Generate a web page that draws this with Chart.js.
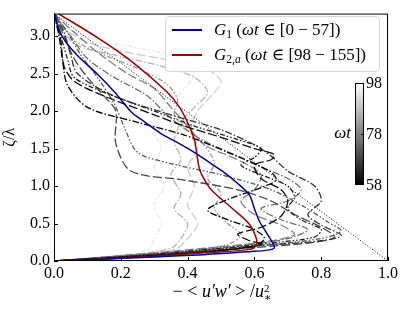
<!DOCTYPE html>
<html>
<head>
<meta charset="utf-8">
<script src="https://cdn.jsdelivr.net/npm/chart.js@4.4.1/dist/chart.umd.min.js"></script>
<style>
  body { margin: 0; background: #fff; }
  #wrap { position: relative; width: 407px; height: 310px; font-family: 'Liberation Serif', 'DejaVu Serif', serif; }
  #legend {
    position: absolute; left: 165px; top: 16px; width: 215px; height: 56px;
    border: 1px solid #d6d6d6; border-radius: 4px; background: rgba(255,255,255,0.85);
    box-sizing: border-box; font-size: 17px; color: #000;
  }
  .row { position: absolute; left: 0; height: 20px; line-height: 20px; white-space: nowrap; }
  .swatch { position: absolute; left: 6px; top: 9px; width: 30px; height: 2px; }
  .txt { position: absolute; left: 48px; top: 0; }
  sub { font-size: 11.5px; vertical-align: -3px; line-height: 0; }
  #xtitle { position: absolute; left: 0; width: 444px; top: 281px; text-align: center; font-size: 18px; white-space: nowrap; }
  .ss { display: inline-block; vertical-align: -4px; line-height: 9px; font-size: 11px; text-align: left; }
</style>
</head>
<body>
<div id="wrap">
  <canvas id="c" width="407" height="310"></canvas>
  <div id="legend">
    <div class="row" style="top:3px"><span class="swatch" style="background:#0000a0"></span><span class="txt"><i>G</i><sub>1</sub> (<i>ωt</i> ∈ [0 − 57])</span></div>
    <div class="row" style="top:28px"><span class="swatch" style="background:#a00000"></span><span class="txt"><i>G</i><sub>2,<i>a</i></sub> (<i>ωt</i> ∈ [98 − 155])</span></div>
  </div>
  <div id="xtitle">− &lt; <i>u′w′</i> &gt; /<i>u</i><span class="ss">2<br>∗</span></div>
</div>
<script>
// axis ticks
var xTicks = [0.0, 0.2, 0.4, 0.6, 0.8, 1.0];
var yTicks = [0.0, 0.5, 1.0, 1.5, 2.0, 2.5, 3.0];
var cbarLabels = [98, 78, 58];

// mean profiles: stress (x) and height zeta/lambda (y)
var g1X = [0, 0.024, 0.068, 0.128, 0.182, 0.233, 0.27, 0.32, 0.37, 0.42, 0.47, 0.51, 0.546, 0.585, 0.60, 0.615, 0.64, 0.66, 0.64, 0.585, 0.45, 0.30, 0.15, 0];
var g1Y = [3.3, 3.0, 2.75, 2.5, 2.25, 1.98, 1.86, 1.70, 1.58, 1.45, 1.30, 1.18, 1.05, 0.88, 0.70, 0.53, 0.35, 0.18, 0.145, 0.125, 0.085, 0.055, 0.025, 0];
var g2X = [0.013, 0.137, 0.236, 0.337, 0.376, 0.405, 0.42, 0.427, 0.436, 0.455, 0.475, 0.534, 0.585, 0.605, 0.605, 0.585, 0.45, 0.287, 0.15, 0];
var g2Y = [3.3, 2.96, 2.65, 2.26, 2.05, 1.80, 1.62, 1.45, 1.22, 1.05, 0.93, 0.70, 0.49, 0.31, 0.21, 0.155, 0.11, 0.06, 0.03, 0];

// instantaneous profiles, one per phase omega*t
var phases = [58, 60, 63, 66, 69, 72, 75, 78, 82, 86, 90, 94];
var profX = [
  [0, 0.015, 0.025, 0.04, 0.10, 0.25, 0.39, 0.52, 0.645, 0.665, 0.62, 0.52, 0.46, 0.52, 0.60, 0.63, 0.60, 0.45, 0.25, 0],
  [0, 0.02, 0.03, 0.06, 0.15, 0.30, 0.39, 0.50, 0.60, 0.66, 0.65, 0.60, 0.62, 0.68, 0.70, 0.68, 0.62, 0.55, 0.58, 0.62, 0.50, 0.30, 0],
  [0, 0.02, 0.04, 0.06, 0.15, 0.30, 0.42, 0.55, 0.62, 0.60, 0.56, 0.62, 0.70, 0.72, 0.70, 0.74, 0.80, 0.78, 0.65, 0.45, 0.25, 0],
  [0, 0.03, 0.05, 0.07, 0.18, 0.35, 0.50, 0.60, 0.65, 0.70, 0.78, 0.80, 0.76, 0.80, 0.86, 0.80, 0.60, 0.40, 0],
  [0, 0.03, 0.06, 0.10, 0.15, 0.185, 0.185, 0.23, 0.39, 0.55, 0.65, 0.72, 0.80, 0.84, 0.78, 0.60, 0.35, 0],
  [0, 0.04, 0.08, 0.13, 0.18, 0.21, 0.25, 0.35, 0.50, 0.65, 0.75, 0.82, 0.86, 0.80, 0.60, 0.35, 0],
  [0, 0.05, 0.10, 0.18, 0.28, 0.35, 0.45, 0.55, 0.62, 0.70, 0.74, 0.70, 0.62, 0.68, 0.76, 0.70, 0.55, 0.30, 0],
  [0, 0.06, 0.14, 0.22, 0.30, 0.35, 0.40, 0.45, 0.55, 0.62, 0.60, 0.56, 0.60, 0.68, 0.72, 0.62, 0.45, 0.20, 0],
  [0, 0.06, 0.15, 0.26, 0.34, 0.37, 0.36, 0.40, 0.45, 0.48, 0.46, 0.50, 0.48, 0.52, 0.56, 0.52, 0.40, 0.20, 0],
  [0, 0.06, 0.18, 0.32, 0.42, 0.46, 0.42, 0.38, 0.36, 0.38, 0.35, 0.38, 0.36, 0.40, 0.38, 0.35, 0.20, 0],
  [0, 0.03, 0.10, 0.20, 0.32, 0.44, 0.50, 0.47, 0.43, 0.41, 0.43, 0.40, 0.42, 0.40, 0.43, 0.40, 0.36, 0.20, 0],
  [0, 0.02, 0.08, 0.18, 0.30, 0.38, 0.42, 0.38, 0.33, 0.30, 0.32, 0.30, 0.33, 0.30, 0.32, 0.30, 0.28, 0.15, 0]
];
var profY = [
  [3.3, 3.0, 2.7, 2.35, 2.05, 1.85, 1.68, 1.45, 1.2, 1.08, 0.98, 0.82, 0.68, 0.55, 0.42, 0.3, 0.2, 0.12, 0.06, 0],
  [3.3, 2.95, 2.6, 2.4, 2.2, 1.95, 1.8, 1.65, 1.5, 1.42, 1.35, 1.28, 1.1, 0.95, 0.8, 0.6, 0.45, 0.36, 0.28, 0.22, 0.14, 0.07, 0],
  [3.3, 3.0, 2.7, 2.45, 2.25, 2.0, 1.8, 1.62, 1.5, 1.38, 1.28, 1.15, 1.0, 0.85, 0.7, 0.55, 0.42, 0.32, 0.24, 0.15, 0.07, 0],
  [3.3, 3.05, 2.75, 2.5, 2.2, 1.95, 1.75, 1.55, 1.4, 1.2, 1.0, 0.8, 0.62, 0.48, 0.34, 0.27, 0.2, 0.12, 0],
  [3.3, 3.0, 2.7, 2.45, 2.2, 2.0, 1.57, 1.2, 1.08, 0.95, 0.8, 0.62, 0.45, 0.32, 0.25, 0.18, 0.1, 0],
  [3.3, 3.05, 2.75, 2.45, 2.1, 1.79, 1.45, 1.3, 1.15, 0.95, 0.72, 0.52, 0.4, 0.3, 0.2, 0.1, 0],
  [3.3, 3.0, 2.7, 2.45, 2.2, 1.9, 1.6, 1.4, 1.25, 1.1, 0.95, 0.8, 0.7, 0.55, 0.42, 0.3, 0.2, 0.1, 0],
  [3.3, 3.05, 2.75, 2.5, 2.3, 2.05, 1.8, 1.55, 1.35, 1.15, 0.95, 0.8, 0.62, 0.48, 0.35, 0.25, 0.17, 0.07, 0],
  [3.3, 2.95, 2.75, 2.55, 2.35, 2.15, 1.95, 1.75, 1.55, 1.3, 1.1, 0.9, 0.7, 0.5, 0.35, 0.22, 0.14, 0.07, 0],
  [3.3, 2.9, 2.75, 2.6, 2.45, 2.25, 2.05, 1.85, 1.6, 1.35, 1.15, 0.9, 0.7, 0.5, 0.3, 0.17, 0.07, 0],
  [3.3, 3.1, 2.92, 2.8, 2.7, 2.6, 2.4, 2.2, 2.0, 1.75, 1.5, 1.25, 1.0, 0.75, 0.5, 0.3, 0.15, 0.07, 0],
  [3.3, 3.15, 3.02, 2.9, 2.8, 2.7, 2.5, 2.25, 2.0, 1.75, 1.5, 1.25, 1.0, 0.75, 0.5, 0.3, 0.15, 0.06, 0]
];

// reference line
var diagX = [0, 1.0];
var diagY = [3.3, 0];

var dashes = [[7, 2, 1.5, 2], [9, 3], [5, 2, 1.5, 2, 1.5, 2]];

function pts(xs, ys) {
  return xs.map(function(v, i) { return { x: v, y: ys[i] }; });
}

function grayFor(t) {
  var v = Math.round((t - 58) / 40 * 255);
  return 'rgb(' + v + ',' + v + ',' + v + ')';
}

var datasets = [
  { data: pts(g1X, g1Y), borderColor: '#0000a0', borderWidth: 1.5, tension: 0.3, order: 0 },
  { data: pts(g2X, g2Y), borderColor: '#a00000', borderWidth: 1.5, tension: 0.35, order: 1 },
  { data: pts(diagX, diagY), borderColor: '#000', borderWidth: 1, borderDash: [1, 2], order: 2 }
];
phases.forEach(function(t, i) {
  datasets.push({
    data: pts(profX[i], profY[i]),
    borderColor: grayFor(t),
    borderWidth: 1.3,
    borderDash: dashes[i % 3],
    tension: 0.3,
    order: 10 + i
  });
});

var font = { family: "'Liberation Serif', 'DejaVu Serif', serif", size: 16 };

// frame, inward ticks and colour bar
var overlay = {
  id: 'overlay',
  afterDraw: function(chart) {
    var ctx = chart.ctx, a = chart.chartArea, xs = chart.scales.x, ys = chart.scales.y;
    ctx.save();
    ctx.strokeStyle = '#000';
    ctx.lineWidth = 1;
    ctx.setLineDash([]);
    ctx.strokeRect(a.left + 0.5, a.top + 0.5, a.right - a.left - 1, a.bottom - a.top - 1);
    ctx.beginPath();
    xTicks.forEach(function(v) {
      var px = Math.round(xs.getPixelForValue(v)) + 0.5;
      ctx.moveTo(px, a.bottom); ctx.lineTo(px, a.bottom - 4);
    });
    yTicks.forEach(function(v) {
      var py = Math.round(ys.getPixelForValue(v)) + 0.5;
      ctx.moveTo(a.left, py); ctx.lineTo(a.left + 4, py);
    });
    ctx.stroke();

    // colour bar
    var cx = 355, cy = 83, cw = 9, ch = 102;
    var grad = ctx.createLinearGradient(0, cy, 0, cy + ch);
    grad.addColorStop(0, '#fff');
    grad.addColorStop(1, '#000');
    ctx.fillStyle = grad;
    ctx.fillRect(cx, cy, cw, ch);
    ctx.strokeRect(cx + 0.5, cy + 0.5, cw - 1, ch - 1);
    ctx.beginPath();
    ctx.moveTo(cx + cw - 3, cy + ch / 2 + 0.5); ctx.lineTo(cx + cw, cy + ch / 2 + 0.5);
    ctx.stroke();
    ctx.fillStyle = '#000';
    ctx.font = "16px 'Liberation Serif', serif";
    ctx.textBaseline = 'middle';
    ctx.textAlign = 'left';
    cbarLabels.forEach(function(lab, i) {
      ctx.fillText(String(lab), cx + cw + 2, cy + 1 + i * ch / 2);
    });
    ctx.font = "italic 17px 'Liberation Serif', serif";
    ctx.textAlign = 'right';
    ctx.fillText('ωt', cx - 4, cy + ch / 2);
    ctx.restore();
  }
};

new Chart(document.getElementById('c'), {
  type: 'scatter',
  data: { datasets: datasets },
  options: {
    responsive: false,
    animation: false,
    devicePixelRatio: 1,
    showLine: true,
    layout: { padding: { left: 0, right: 19, top: 7, bottom: 0 } },
    elements: { point: { radius: 0 } },
    plugins: { legend: { display: false }, tooltip: { enabled: false } },
    scales: {
      x: {
        type: 'linear', min: 0, max: 1.0,
        afterBuildTicks: function(s) { s.ticks = xTicks.map(function(v) { return { value: v }; }); },
        afterFit: function(s) { s.height = 49; },
        grid: { display: false, drawTicks: false },
        border: { display: false },
        ticks: { font: font, color: '#000', padding: 3, maxRotation: 0, callback: function(v) { return v.toFixed(1); } }
      },
      y: {
        type: 'linear', min: 0, max: 3.3,
        afterBuildTicks: function(s) { s.ticks = yTicks.map(function(v) { return { value: v }; }); },
        afterFit: function(s) { s.width = 54; },
        grid: { display: false, drawTicks: false },
        border: { display: false },
        title: { display: true, text: 'ζ/λ', font: font, color: '#000', padding: { top: 0, bottom: 0 } },
        ticks: { font: font, color: '#000', padding: 4, callback: function(v) { return v.toFixed(1); } }
      }
    }
  },
  plugins: [overlay]
});
</script>
</body>
</html>
